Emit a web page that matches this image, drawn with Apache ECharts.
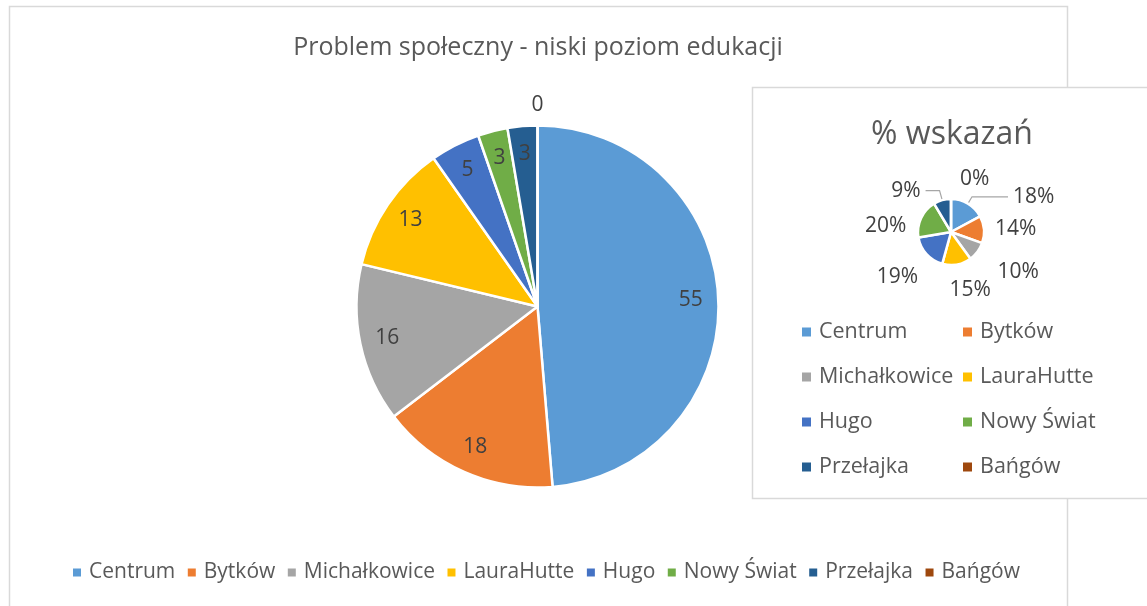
<!DOCTYPE html>
<html>
<head>
<meta charset="utf-8">
<script src="https://cdn.jsdelivr.net/npm/echarts@6/dist/echarts.min.js"></script>
<style>
  html, body { margin: 0; padding: 0; background: #fff; }
  #chart { width: 1147px; height: 606px; }
</style>
</head>
<body>
<div id="chart"></div>
<script>
// districts, in the order Excel draws them
const categories = ['Centrum', 'Bytków', 'Michałkowice', 'LauraHutte', 'Hugo', 'Nowy Świat', 'Przełajka', 'Bańgów'];
// number of answers (big pie)
const counts = [55, 18, 16, 13, 5, 3, 3, 0];
// % wskazań (small pie)
const shares = [18, 14, 10, 15, 19, 20, 9, 0];

const palette = ['#5B9BD5', '#ED7D31', '#A5A5A5', '#FFC000', '#4472C4', '#70AD47', '#255E91', '#9E480E'];
const font = '"Open Sans", "Noto Sans", sans-serif';

// label line tweaks for the small pie, Excel puts these labels by hand
const shareLabelTweaks = {
	'Centrum': { line: true, len: 8, len2: 36, dist: 5 },
	'Bytków': { len: 4, len2: 2, dist: 5 },
	'Michałkowice': { len: 34, len2: 0, dist: -7 },
	'LauraHutte': { len: 26, len2: 0, dist: -12 },
	'Hugo': { len: 34, len2: 0, dist: -17 },
	'Nowy Świat': { len: -18, len2: 0, dist: 31 },
	'Przełajka': { line: true, len: 10, len2: 14, dist: 5 },
	'Bańgów': { len: 0, len2: 0, dist: 5 }
};

const bigCenter = [537.5, 306.5];
const smallCenter = [951, 232];

const chart = echarts.init(document.getElementById('chart'), null, { renderer: 'canvas' });

const legendBase = {
	icon: 'rect',
	selectedMode: false,
	padding: 0,
	itemStyle: { borderWidth: 0 }
};

const option = {
	animation: false,
	color: palette,
	backgroundColor: '#fff',
	textStyle: { fontFamily: font },
	title: [
		{
			text: 'Problem społeczny - niski poziom edukacji',
			left: 538,
			top: 35,
			padding: 0,
			textAlign: 'center',
			textStyle: { fontFamily: font, fontSize: 25, fontWeight: 'normal', color: '#595959' }
		},
		{
			text: '% wskazań',
			left: 952,
			top: 119,
			padding: 0,
			textAlign: 'center',
			textStyle: { fontFamily: font, fontSize: 32, fontWeight: 'normal', color: '#595959' }
		}
	],
	graphic: [
		{
			type: 'rect',
			z: 0,
			silent: true,
			shape: { x: 9.5, y: 6.5, width: 1058, height: 640 },
			style: { fill: 'none', stroke: '#d9d9d9', lineWidth: 1.5 }
		},
		{
			type: 'rect',
			z: 1,
			silent: true,
			shape: { x: 752.5, y: 87.5, width: 420, height: 411 },
			style: { fill: '#fff', stroke: '#d9d9d9', lineWidth: 1.5 }
		}
	],
	legend: [
		Object.assign({}, legendBase, {
			data: categories,
			left: 73,
			top: 562,
			itemWidth: 8,
			itemHeight: 8,
			itemGap: 12.5,
			textStyle: { fontFamily: font, fontSize: 21, color: '#595959', padding: [0, 0, 0, 3] }
		}),
		Object.assign({}, legendBase, {
			data: categories.filter((c, i) => i % 2 === 0),
			orient: 'vertical',
			left: 802,
			top: 321,
			itemWidth: 9,
			itemHeight: 9,
			itemGap: 23,
			textStyle: { fontFamily: font, fontSize: 21.5, lineHeight: 21, color: '#595959', padding: [0, 0, 0, 3] }
		}),
		Object.assign({}, legendBase, {
			data: categories.filter((c, i) => i % 2 === 1),
			orient: 'vertical',
			left: 963,
			top: 321,
			itemWidth: 9,
			itemHeight: 9,
			itemGap: 23,
			textStyle: { fontFamily: font, fontSize: 21.5, lineHeight: 21, color: '#595959', padding: [0, 0, 0, 3] }
		})
	],
	series: [
		{
			// big pie
			type: 'pie',
			center: bigCenter,
			radius: [0, 181],
			startAngle: 90,
			silent: true,
			label: { show: false },
			labelLine: { show: false },
			itemStyle: { borderColor: '#fff', borderWidth: 2.5 },
			data: categories.map((name, i) => ({ name: name, value: counts[i] }))
		},
		{
			// invisible ring only to carry the value labels near the rim
			type: 'pie',
			center: bigCenter,
			radius: [120, 181],
			startAngle: 90,
			silent: true,
			z: 3,
			itemStyle: { color: 'transparent', borderWidth: 0 },
			label: { position: 'inside', formatter: '{c}', fontFamily: font, fontSize: 21, color: '#404040' },
			labelLine: { show: false },
			data: categories.map((name, i) => ({ name: name, value: counts[i], label: { show: counts[i] !== 0 } }))
		},
		{
			// zero slices get their label outside the pie
			type: 'pie',
			center: bigCenter,
			radius: [188, 208],
			startAngle: 90,
			silent: true,
			z: 3,
			itemStyle: { color: 'transparent', borderWidth: 0 },
			label: { position: 'inside', formatter: '{c}', fontFamily: font, fontSize: 21, color: '#404040' },
			labelLine: { show: false },
			data: categories.map((name, i) => ({ name: name, value: counts[i], label: { show: counts[i] === 0 } }))
		},
		{
			// small pie, % wskazań
			type: 'pie',
			center: smallCenter,
			radius: [0, 33],
			startAngle: 90,
			silent: true,
			z: 3,
			avoidLabelOverlap: false,
			itemStyle: { borderColor: '#fff', borderWidth: 2.5 },
			label: { position: 'outside', formatter: '{c}%', fontFamily: font, fontSize: 21, color: '#404040' },
			labelLine: { lineStyle: { color: '#a6a6a6', width: 1.2 } },
			data: categories.map((name, i) => {
				const t = shareLabelTweaks[name];
				return {
					name: name,
					value: shares[i],
					label: { show: shares[i] !== 0, distanceToLabelLine: t.dist },
					labelLine: { show: !!t.line, length: t.len, length2: t.len2 }
				};
			})
		},
		{
			// zero share label sits just right of the top, like Excel's
			type: 'pie',
			center: smallCenter,
			radius: [48, 62],
			startAngle: 66,
			silent: true,
			z: 3,
			itemStyle: { color: 'transparent', borderWidth: 0 },
			label: { position: 'inside', formatter: '{c}%', fontFamily: font, fontSize: 21, color: '#404040' },
			labelLine: { show: false },
			data: categories.map((name, i) => ({ name: name, value: shares[i], label: { show: shares[i] === 0 } }))
		}
	]
};

chart.setOption(option);
</script>
</body>
</html>
